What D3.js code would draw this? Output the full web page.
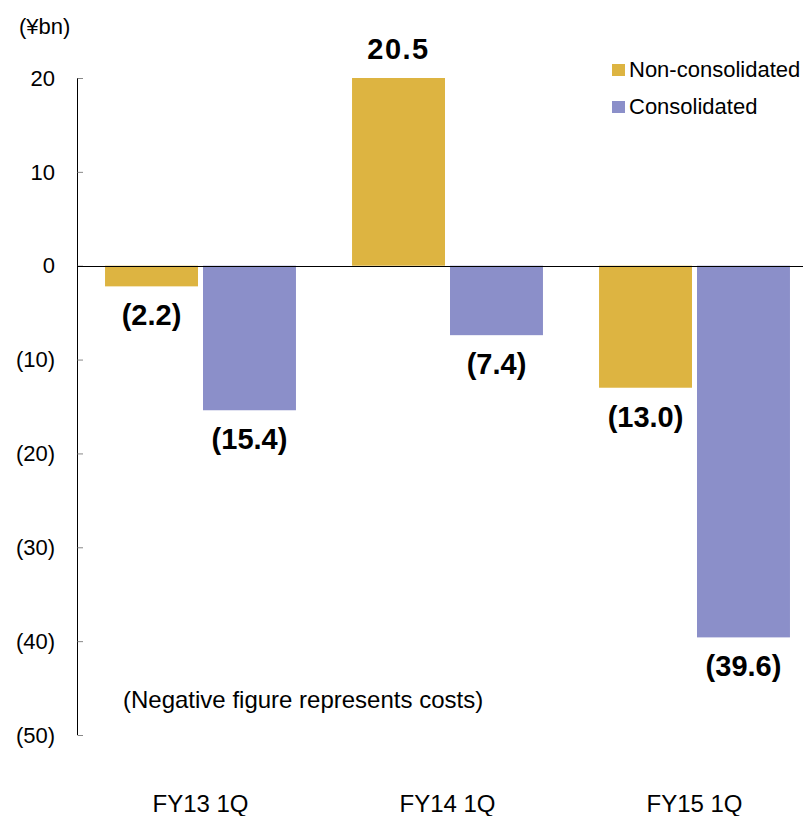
<!DOCTYPE html>
<html>
<head>
<meta charset="utf-8">
<script src="https://cdn.jsdelivr.net/npm/d3@7"></script>
<style>
  body { margin: 0; background: #fff; }
  svg { display: block; font-family: "Liberation Sans", Arial, sans-serif; }
</style>
</head>
<body>
<svg id="chart" width="803" height="816"></svg>
<script>
const categories = ["FY13 1Q", "FY14 1Q", "FY15 1Q"];
const seriesNames = ["Non-consolidated", "Consolidated"];
const nonConsolidated = [-2.2, 20.5, -13.0];
const consolidated = [-15.4, -7.4, -39.6];
const tickValues = [20, 10, 0, -10, -20, -30, -40, -50];
const colors = ["#DDB441", "#8B8FC9"];

const svg = d3.select("#chart");
const W = 803, H = 816;

const y = d3.scaleLinear().domain([-50, 20]).range([735, 78]).clamp(true);
const x0 = d3.scaleBand().domain(categories).range([77, 818]).paddingInner(0.227).paddingOuter(0.1135);
const x1 = d3.scaleBand().domain(seriesNames).range([0, x0.bandwidth()]).paddingInner(0.051).paddingOuter(0);
const color = d3.scaleOrdinal().domain(seriesNames).range(colors);

const data = categories.map((c, i) => ({
  cat: c,
  vals: [
    { s: seriesNames[0], v: nonConsolidated[i] },
    { s: seriesNames[1], v: consolidated[i] }
  ]
}));

const fmt = v => v < 0 ? "(" + Math.abs(v).toFixed(1) + ")" : v.toFixed(1);

// bars
const g = svg.append("g");
const groups = g.selectAll("g.cat").data(data).join("g")
  .attr("transform", d => `translate(${x0(d.cat)},0)`);
groups.selectAll("rect").data(d => d.vals).join("rect")
  .attr("x", d => x1(d.s))
  .attr("width", x1.bandwidth())
  .attr("y", d => Math.min(y(d.v), y(0)))
  .attr("height", d => Math.abs(y(d.v) - y(0)))
  .attr("fill", d => color(d.s));

// value labels
groups.selectAll("text").data(d => d.vals).join("text")
  .attr("x", d => x1(d.s) + x1.bandwidth() / 2)
  .attr("y", d => d.v < 0 ? y(d.v) + 39 : y(d.v) - 19)
  .attr("text-anchor", "middle")
  .attr("font-size", 29)
  .attr("font-weight", "bold")
  .attr("letter-spacing", d => d.v < 0 ? 0 : 1.5)
  .attr("fill", "#000")
  .text(d => fmt(d.v));

// y axis
const axis = d3.axisRight(y).tickValues(tickValues).tickSize(6).tickFormat("");
const ag = svg.append("g").attr("transform", "translate(77,0)").call(axis);
ag.select(".domain").attr("stroke", "#000").attr("d", `M0.5,${y(20)}V${y(-50)}`);
ag.selectAll(".tick line").attr("stroke", "#888").attr("x1", 0.5);

svg.append("g").selectAll("text").data(tickValues).join("text")
  .attr("x", 55)
  .attr("y", d => y(d))
  .attr("dy", "0.35em")
  .attr("text-anchor", "end")
  .attr("font-size", 22)
  .attr("fill", "#000")
  .text(d => d < 0 ? "(" + Math.abs(d) + ")" : d);

// zero line
svg.append("line")
  .attr("x1", 77).attr("x2", W)
  .attr("y1", Math.round(y(0)) + 0.5).attr("y2", Math.round(y(0)) + 0.5)
  .attr("stroke", "#000").attr("stroke-width", 1);

// unit
svg.append("text").attr("x", 19).attr("y", 34).attr("font-size", 22).text("(¥bn)");

// category labels
svg.append("g").selectAll("text").data(categories).join("text")
  .attr("x", d => x0(d) + x0.bandwidth() / 2)
  .attr("y", 812)
  .attr("text-anchor", "middle")
  .attr("font-size", 24)
  .text(d => d);

// note
svg.append("text").attr("x", 123).attr("y", 708).attr("font-size", 24)
  .text("(Negative figure represents costs)");

// legend
const lg = svg.append("g").selectAll("g").data(seriesNames).join("g")
  .attr("transform", (d, i) => `translate(612,${64 + i * 37})`);
lg.append("rect").attr("width", 13).attr("height", 12).attr("fill", d => color(d));
lg.append("text").attr("x", 17).attr("y", 13).attr("font-size", 22).text(d => d);
</script>
</body>
</html>
